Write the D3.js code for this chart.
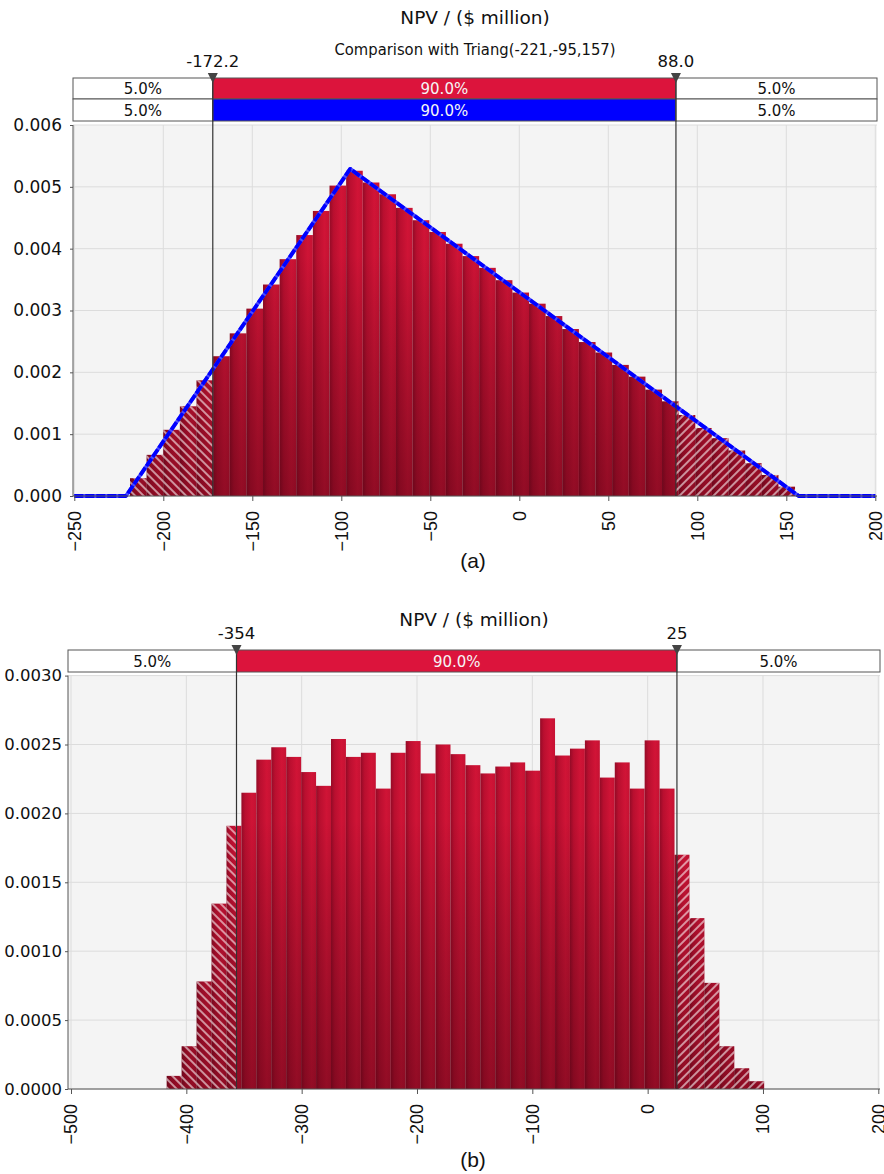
<!DOCTYPE html>
<html><head><meta charset="utf-8">
<script src="https://cdn.jsdelivr.net/npm/d3@7"></script>
<style>body{margin:0;background:#fff} svg{display:block}</style>
</head><body>
<svg id="c" width="884" height="1174"></svg>
<script>
// ---------------- data: chart (a) ----------------
const aTitle = "NPV / ($ million)";
const aSubtitle = "Comparison with Triang(-221,-95,157)";
const aBinStart = -218.7;
const aBinWidth = 9.34;
const aDensity = [0.000287,0.000665,0.00107,0.00145,0.00187,0.00226,0.00263,0.00303,0.00342,0.00383,
  0.00422,0.00461,0.00502,0.00526,0.00507,0.00488,0.00466,0.00446,0.00427,0.00408,
  0.00388,0.00369,0.00349,0.00329,0.00311,0.00291,0.00270,0.00249,0.00232,0.00212,
  0.00193,0.00172,0.00153,0.00131,0.00110,0.000935,0.000735,0.00053,0.00034,0.00015];
const aDelims = [-172.2, 88.0];
const aDelimLabels = ["-172.2", "88.0"];
const aBandRow1 = ["5.0%", "90.0%", "5.0%"];
const aBandRow2 = ["5.0%", "90.0%", "5.0%"];
const aTriangX = [-250, -221, -95, 157, 200];
const aTriangY = [0, 0, 0.00529, 0, 0];
const aXTicks = [-250, -200, -150, -100, -50, 0, 50, 100, 150, 200];
const aYTicks = [0, 0.001, 0.002, 0.003, 0.004, 0.005, 0.006];
const aLabel = "(a)";

// ---------------- data: chart (b) ----------------
const bTitle = "NPV / ($ million)";
const bBinStart = -417;
const bBinWidth = 12.95;
const bDensity = [0.000095,0.00031,0.00078,0.001345,0.00191,0.00215,0.00239,0.00248,0.00241,0.0023,
  0.0022,0.00254,0.00241,0.00244,0.00218,0.00244,0.002525,0.00229,0.0025,0.00243,
  0.00235,0.00229,0.00234,0.00237,0.00231,0.00269,0.00242,0.00247,0.00253,0.00226,
  0.00237,0.00218,0.00253,0.00218,0.0017,0.00124,0.00077,0.00031,0.00015,0.000056];
const bDelims = [-356.5, 25.4];
const bDelimLabels = ["-354", "25"];
const bBandRow1 = ["5.0%", "90.0%", "5.0%"];
const bXTicks = [-500, -400, -300, -200, -100, 0, 100, 200];
const bYTicks = [0, 0.0005, 0.0010, 0.0015, 0.0020, 0.0025, 0.0030];
const bLabel = "(b)";

// ---------------- drawing ----------------
const svg = d3.select("#c");
const defs = svg.append("defs");
const FONT = "'DejaVu Sans', Verdana, sans-serif";
const ARIAL = "'Liberation Sans', Arial, sans-serif";

const hg = defs.append("linearGradient").attr("id", "hbar")
  .attr("x1", 0).attr("x2", 1).attr("y1", 0).attr("y2", 0);
[[0, "#960b27"], [0.25, "#bc0f30"], [0.7, "#d31437"], [1, "#c81234"]]
  .forEach(([o, c]) => hg.append("stop").attr("offset", o).attr("stop-color", c));

function hatch(id, ang) {
  const p = defs.append("pattern").attr("id", id).attr("patternUnits", "userSpaceOnUse")
    .attr("width", 6).attr("height", 6).attr("patternTransform", `rotate(${ang})`);
  p.append("line").attr("x1", 3).attr("y1", -1).attr("x2", 3).attr("y2", 7)
    .attr("stroke", "#fff").attr("stroke-width", 1.3).attr("stroke-opacity", 0.85);
}
hatch("hatchL", -45);
hatch("hatchR", 45);

function drawChart(c) {
  const g = svg.append("g");
  const x = d3.scaleLinear().domain(c.xDomain).range(c.xRange);
  const y = d3.scaleLinear().domain(c.yDomain).range([c.bottom, c.top]);

  const vg = defs.append("linearGradient").attr("id", c.id + "shade")
    .attr("gradientUnits", "userSpaceOnUse").attr("x1", 0).attr("x2", 0)
    .attr("y1", c.top).attr("y2", c.bottom);
  vg.append("stop").attr("offset", 0).attr("stop-color", "#000").attr("stop-opacity", 0);
  vg.append("stop").attr("offset", 0.35).attr("stop-color", "#000").attr("stop-opacity", 0.02);
  vg.append("stop").attr("offset", 1).attr("stop-color", "#2a0008").attr("stop-opacity", 0.38);

  g.append("rect").attr("x", c.plotLeft).attr("y", c.top)
    .attr("width", c.plotRight - c.plotLeft).attr("height", c.bottom - c.top).attr("fill", "#f4f4f4");
  g.append("g").selectAll("line").data(c.xTicks).join("line")
    .attr("x1", d => x(d)).attr("x2", d => x(d)).attr("y1", c.top).attr("y2", c.bottom)
    .attr("stroke", "#dcdcdc").attr("stroke-width", 1);
  g.append("g").selectAll("line").data(c.yTicks).join("line")
    .attr("x1", c.plotLeft).attr("x2", c.plotRight).attr("y1", d => y(d)).attr("y2", d => y(d))
    .attr("stroke", "#dcdcdc").attr("stroke-width", 1);

  const bins = c.density.map((v, i) => ({
    x0: c.binStart + i * c.binWidth, x1: c.binStart + (i + 1) * c.binWidth, v
  }));
  const bw = d => x(d.x1) - x(d.x0);
  const barsG = g.append("g");
  barsG.selectAll("rect.b").data(bins).join("rect").attr("class", "b")
    .attr("x", d => x(d.x0)).attr("width", bw)
    .attr("y", d => y(d.v)).attr("height", d => y(0) - y(d.v)).attr("fill", "url(#hbar)");
  barsG.selectAll("rect.s").data(bins).join("rect").attr("class", "s")
    .attr("x", d => x(d.x0)).attr("width", bw)
    .attr("y", d => y(d.v)).attr("height", d => y(0) - y(d.v)).attr("fill", `url(#${c.id}shade)`);

  const xl = x(c.delims[0]), xr = x(c.delims[1]);
  defs.append("clipPath").attr("id", c.id + "cl").append("rect")
    .attr("x", c.plotLeft).attr("y", c.top).attr("width", xl - c.plotLeft).attr("height", c.bottom - c.top);
  defs.append("clipPath").attr("id", c.id + "cr").append("rect")
    .attr("x", xr).attr("y", c.top).attr("width", c.plotRight - xr).attr("height", c.bottom - c.top);
  [["cl", "hatchL"], ["cr", "hatchR"]].forEach(([cp, pat]) => {
    g.append("g").attr("clip-path", `url(#${c.id + cp})`)
      .selectAll("rect").data(bins).join("rect")
      .attr("x", d => x(d.x0)).attr("width", bw)
      .attr("y", d => y(d.v)).attr("height", d => y(0) - y(d.v)).attr("fill", `url(#${pat})`);
  });

  if (c.curveX) {
    const pts = c.curveX.map((v, i) => [v, c.curveY[i]]);
    const line = d3.line().x(d => x(d[0])).y(d => y(d[1]));
    g.append("path").attr("d", line(pts)).attr("fill", "none")
      .attr("stroke", "#4a4aff").attr("stroke-width", 3.8).attr("stroke-linejoin", "round");
    g.append("path").attr("d", line(pts)).attr("fill", "none")
      .attr("stroke", "#0000ff").attr("stroke-width", 3.8).attr("stroke-linejoin", "round")
      .attr("stroke-dasharray", "9,2");
  }

  const xa = g.append("g").attr("transform", `translate(0,${c.bottom})`)
    .call(d3.axisBottom(x).tickValues(c.xTicks).tickSize(5).tickSizeOuter(0).tickFormat(d3.format("d")));
  xa.select(".domain").attr("d", `M${c.plotLeft},0H${c.plotRight}`).attr("stroke", "#555");
  xa.selectAll(".tick line").attr("stroke", "#555");
  xa.selectAll("text").attr("transform", "rotate(-90)").attr("text-anchor", "end")
    .attr("x", -15).attr("y", 0).attr("dy", "0.33em")
    .style("font-family", ARIAL).style("font-size", "18px").attr("fill", "#111");

  const ya = g.append("g").attr("transform", `translate(${c.plotLeft},0)`)
    .call(d3.axisLeft(y).tickValues(c.yTicks).tickSize(3).tickSizeOuter(0).tickPadding(c.yPad).tickFormat(d3.format(c.yFmt)));
  ya.select(".domain").attr("d", `M0,${c.top}V${c.bottom}`).attr("stroke", "#555");
  ya.selectAll(".tick line").attr("stroke", "#555");
  ya.selectAll("text").style("font-family", FONT).style("font-size", c.yFont).attr("fill", "#111");

  const bx = [c.boxLeft, xl, xr, c.boxRight];
  c.rows.forEach(r => {
    for (let k = 0; k < 3; k++) {
      g.append("rect").attr("x", bx[k]).attr("y", r.y).attr("width", bx[k + 1] - bx[k]).attr("height", r.h)
        .attr("fill", k === 1 ? r.fill : "#fff").attr("stroke", "#555").attr("stroke-width", 1);
      g.append("text").attr("x", (bx[k] + bx[k + 1]) / 2).attr("y", r.y + r.h / 2 + 5.5)
        .attr("text-anchor", "middle").style("font-family", FONT).style("font-size", "15px")
        .attr("fill", k === 1 ? "#f6f6f6" : "#111").text(r.texts[k]);
    }
  });

  c.delims.forEach((dv, i) => {
    const px = x(dv);
    g.append("line").attr("x1", px).attr("x2", px).attr("y1", c.rows[0].y).attr("y2", c.bottom)
      .attr("stroke", "#333").attr("stroke-width", 1.2);
    const t = c.rows[0].y;
    g.append("path").attr("d", `M${px - 5},${t - 5}L${px + 5},${t - 5}L${px},${t + 5}Z`).attr("fill", "#444");
    g.append("text").attr("x", px).attr("y", c.delimY).attr("text-anchor", "middle")
      .style("font-family", FONT).style("font-size", "16.5px").attr("fill", "#111").text(c.delimLabels[i]);
  });

  const cx = (c.plotLeft + c.plotRight) / 2;
  g.append("text").attr("x", cx).attr("y", c.titleY).attr("text-anchor", "middle")
    .style("font-family", FONT).style("font-size", "18.5px").attr("fill", "#111").text(c.title);
  if (c.subtitle) {
    g.append("text").attr("x", cx).attr("y", c.subtitleY).attr("text-anchor", "middle")
      .attr("textLength", 281).attr("lengthAdjust", "spacingAndGlyphs")
      .style("font-family", FONT).style("font-size", "16px").attr("fill", "#111").text(c.subtitle);
  }
  g.append("text").attr("x", 473).attr("y", c.labelY).attr("text-anchor", "middle")
    .style("font-family", ARIAL).style("font-size", "21px").attr("fill", "#111").text(c.label);
}

drawChart({
  id: "a", xDomain: [-250, 200], xRange: [74.3, 875.3], yDomain: [0, 0.006],
  top: 125, bottom: 496, plotLeft: 73, plotRight: 877, boxLeft: 73, boxRight: 877,
  xTicks: aXTicks, yTicks: aYTicks, yFmt: ".3f", yPad: 8, yFont: "17px",
  binStart: aBinStart, binWidth: aBinWidth, density: aDensity,
  delims: aDelims, delimLabels: aDelimLabels, delimY: 67,
  rows: [{ y: 78, h: 21, fill: "#dc143c", texts: aBandRow1 }, { y: 99, h: 22, fill: "#0000ff", texts: aBandRow2 }],
  curveX: aTriangX, curveY: aTriangY,
  title: aTitle, titleY: 24, subtitle: aSubtitle, subtitleY: 55, label: aLabel, labelY: 568
});

drawChart({
  id: "b", xDomain: [-500, 200], xRange: [71, 878.3], yDomain: [0, 0.003],
  top: 675.6, bottom: 1089, plotLeft: 68, plotRight: 880, boxLeft: 68, boxRight: 880,
  xTicks: bXTicks, yTicks: bYTicks, yFmt: ".4f", yPad: 3, yFont: "16.5px",
  binStart: bBinStart, binWidth: bBinWidth, density: bDensity,
  delims: bDelims, delimLabels: bDelimLabels, delimY: 639,
  rows: [{ y: 650, h: 22, fill: "#dc143c", texts: bBandRow1 }],
  title: bTitle, titleY: 626, label: bLabel, labelY: 1167
});
</script>
</body></html>
